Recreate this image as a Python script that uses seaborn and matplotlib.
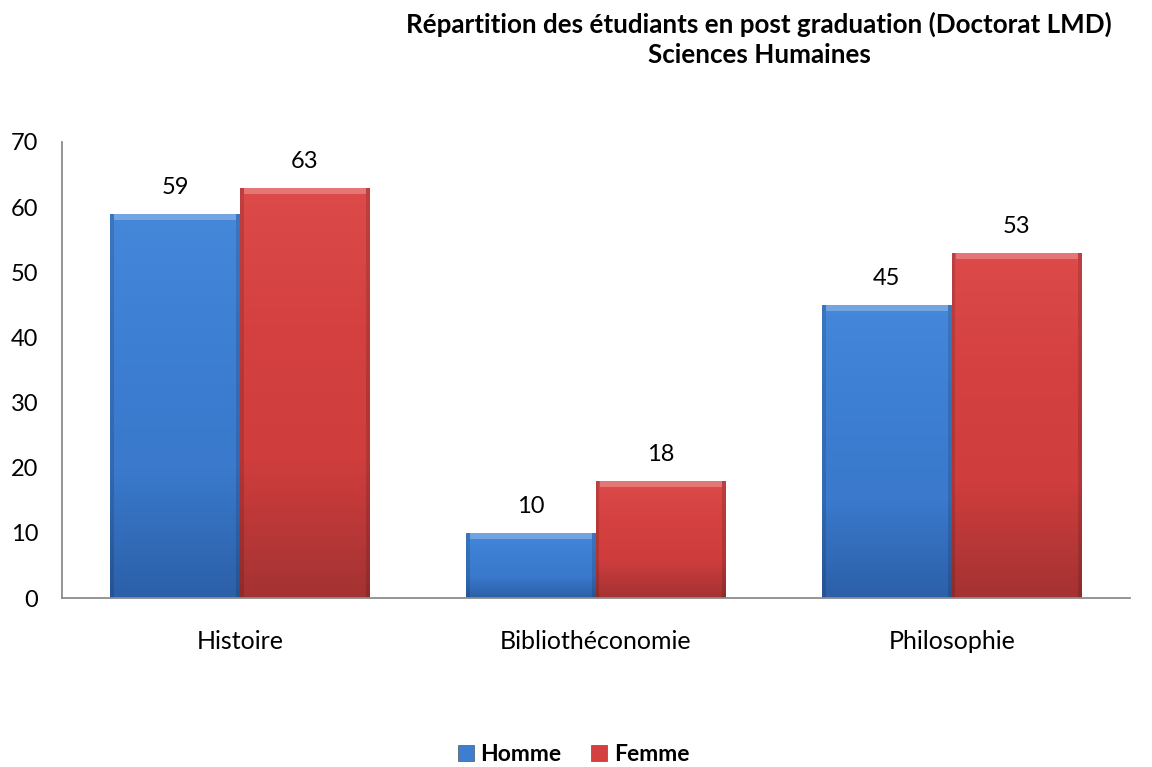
import numpy as np
import pandas as pd
import matplotlib
matplotlib.use("Agg")
import matplotlib.pyplot as plt
from matplotlib.colors import LinearSegmentedColormap
import seaborn as sns

categories = ["Histoire", "Bibliothéconomie", "Philosophie"]
series_names = ["Homme", "Femme"]
homme = [59, 10, 45]
femme = [63, 18, 53]
y_ticks = [0, 10, 20, 30, 40, 50, 60, 70]
title = "Répartition des étudiants en post graduation (Doctorat LMD)\nSciences Humaines"

df = pd.DataFrame({
    "categorie": categories * 2,
    "sexe": [series_names[0]] * 3 + [series_names[1]] * 3,
    "valeur": homme + femme,
})

sns.set_theme(style="white")
plt.rcParams["font.family"] = ["Lato", "DejaVu Sans"]
plt.rcParams["text.color"] = "black"

base = {"Homme": "#3c7ed2", "Femme": "#d43f3f"}
ramps = {
    "Homme": ["#4588da", "#3d7fd3", "#3a79cc", "#2c60a8"],
    "Femme": ["#dc4a4a", "#d54141", "#cf3d3d", "#a43232"],
}

fig = plt.figure(figsize=(11.52, 7.67), dpi=100)
ax = fig.add_axes([0.0538, 0.2203, 0.927, 0.5946])

sns.barplot(data=df, x="categorie", y="valeur", hue="sexe", order=categories,
            hue_order=series_names, palette=base, width=0.73, ax=ax,
            legend=False, errorbar=None, saturation=1)

ax.set_ylim(0, 70)
ax.set_xlim(-0.5, 2.5)
ax.set_yticks(y_ticks)
ax.set_yticklabels([str(t) for t in y_ticks], fontsize=17, color="black")
for lbl in ax.get_xticklabels():
    lbl.set_color("black")
ax.tick_params(axis="x", labelsize=18, pad=23, length=0)
ax.tick_params(axis="y", length=0, pad=17)
ax.set_xlabel("")
ax.set_ylabel("")
for s in ["top", "right"]:
    ax.spines[s].set_visible(False)
for s in ["left", "bottom"]:
    ax.spines[s].set_color("#8c8c8c")
    ax.spines[s].set_linewidth(1.3)

# Shade each bar with a vertical gradient, a light bevel on top and darker sides
patches = list(ax.patches)
for i, p in enumerate(patches):
    name = series_names[i // 3]
    cmap = LinearSegmentedColormap.from_list(name, ramps[name][::-1])
    x0, y0 = p.get_x(), p.get_y()
    w, h = p.get_width(), p.get_height()
    grad = np.linspace(0, 1, 256).reshape(-1, 1)
    im = ax.imshow(grad, aspect="auto", cmap=cmap, origin="lower",
                   extent=[x0, x0 + w, y0, y0 + h], zorder=p.get_zorder() + 0.1)
    im.set_clip_path(p)
    bevel = min(1.0, h * 0.2)
    ax.add_patch(plt.Rectangle((x0 + 0.012, y0 + h - bevel), w - 0.024, bevel,
                               facecolor="white", alpha=0.25, lw=0,
                               zorder=p.get_zorder() + 0.2))
    for xs in (x0, x0 + w - 0.01):
        ax.add_patch(plt.Rectangle((xs, y0), 0.01, h, facecolor="black",
                                   alpha=0.13, lw=0, zorder=p.get_zorder() + 0.2))
    ax.text(x0 + w / 2, y0 + h + 2.4, f"{int(round(h))}", ha="center",
            va="bottom", fontsize=17, color="black")

fig.text(0.659, 0.985, title, ha="center", va="top", fontsize=18.7,
         fontweight="bold", linespacing=1.3)

handles = [plt.Rectangle((0, 0), 1, 1, facecolor=base[n], edgecolor="#555555", lw=0.5)
           for n in series_names]
fig.legend(handles, series_names, loc="center", bbox_to_anchor=(0.498, 0.016),
           ncol=2, frameon=False, prop={"weight": "bold", "size": 16.5},
           handlelength=0.7, handleheight=0.7, handletextpad=0.3, columnspacing=1.3)

fig.savefig("out.png", dpi=100)
